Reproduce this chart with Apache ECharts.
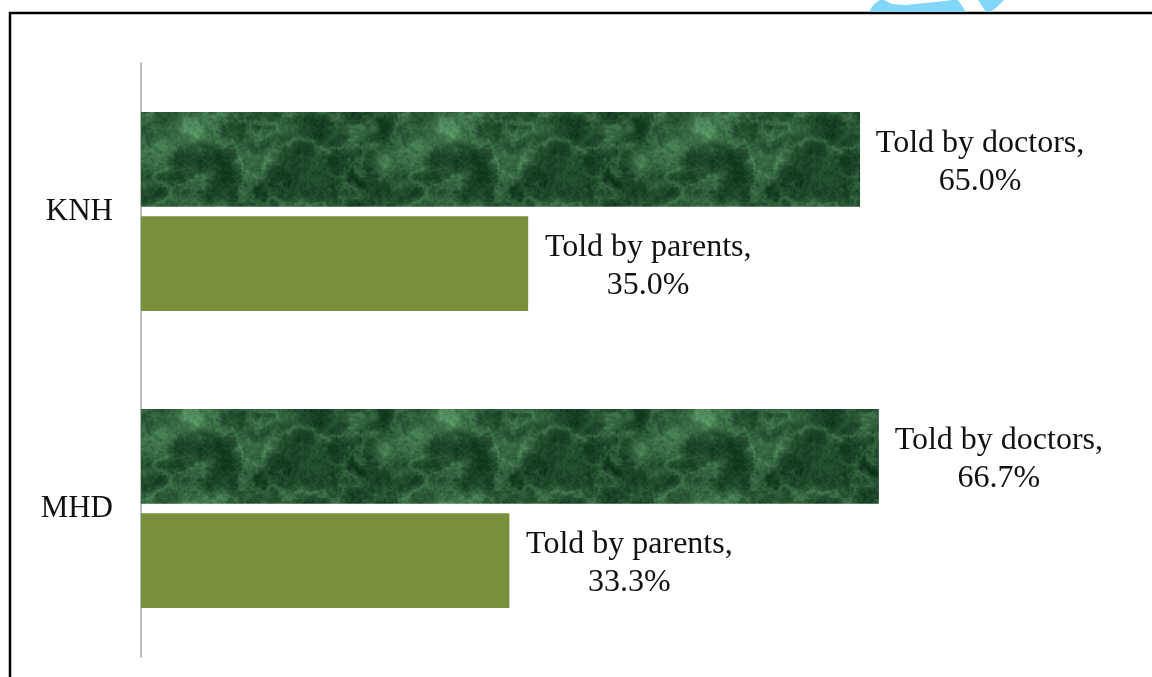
<!DOCTYPE html>
<html>
<head>
<meta charset="utf-8">
<script src="https://cdn.jsdelivr.net/npm/echarts@6/dist/echarts.min.js"></script>
<style>
  html, body { margin: 0; padding: 0; background: #ffffff; }
  #chart { width: 1152px; height: 677px; }
</style>
</head>
<body>
<div id="chart"></div>
<script>
// Hospitals (categories, top to bottom)
const categories = ['KNH', 'MHD'];
// Share of respondents by source of information (%)
const doctorsValues = [65.0, 66.7];
const parentsValues = [35.0, 33.3];
const doctorsName = 'Told by doctors';
const parentsName = 'Told by parents';

// Marble-like green texture for the "doctors" bars (tileable value noise)
function makeMarble() {
  const w = 256, h = 96;
  const hash = (x, y, s) => {
    let n = (x * 374761393 + y * 668265263 + s * 1442695041) | 0;
    n = (n ^ (n >>> 13)) * 1274126177 | 0;
    n = n ^ (n >>> 16);
    return (n >>> 0) / 4294967295;
  };
  const smooth = t => t * t * (3 - 2 * t);
  function noise(x, y, px, py, s) {
    const x0 = Math.floor(x), y0 = Math.floor(y);
    const fx = smooth(x - x0), fy = smooth(y - y0);
    const g = (i, j) => hash(((i % px) + px) % px, ((j % py) + py) % py, s);
    const a = g(x0, y0), b = g(x0 + 1, y0), c = g(x0, y0 + 1), d = g(x0 + 1, y0 + 1);
    return a + (b - a) * fx + (c - a) * fy + (a - b - c + d) * fx * fy;
  }
  function fbm(x, y, s, oct) {
    let sum = 0, amp = 0.5, fx = 8, fy = 3;
    for (let o = 0; o < oct; o++) {
      sum += amp * noise(x * fx, y * fy, fx, fy, s + o);
      amp *= 0.55; fx *= 2; fy *= 2;
    }
    return sum;
  }
  const c = document.createElement('canvas');
  c.width = w; c.height = h;
  const ctx = c.getContext('2d');
  const img = ctx.createImageData(w, h);
  for (let y = 0; y < h; y++) {
    for (let x = 0; x < w; x++) {
      const u = x / w, v = y / h;
      const base = fbm(u, v, 1, 6);
      const vein = 1 - Math.abs(fbm(u, v, 11, 6) * 2 - 1);
      const grain = noise(u * 128, v * 48, 128, 48, 31);
      let t = 0.6 * Math.pow(base, 1.8) + 0.32 * Math.pow(vein, 5) + 0.16 * grain - 0.1;
      t = Math.max(0, Math.min(1, t));
      const i = (y * w + x) * 4;
      img.data[i]     = 8 + t * 110;
      img.data[i + 1] = 44 + t * 145;
      img.data[i + 2] = 22 + t * 105;
      img.data[i + 3] = 255;
    }
  }
  ctx.putImageData(img, 0, 0);
  return c;
}
const marble = makeMarble();

const serif = '"Liberation Serif", "Times New Roman", serif';

function labelFor(name, boxWidth) {
  return {
    show: true,
    position: 'right',
    distance: 15,
    offset: [0, 3],
    formatter: p => '{t|' + name + ',}\n{t|' + p.value.toFixed(1) + '%}',
    rich: {
      t: {
        fontFamily: serif,
        fontSize: 32,
        color: '#111111',
        width: boxWidth,
        align: 'center',
        lineHeight: 38
      }
    }
  };
}

const chart = echarts.init(document.getElementById('chart'));
chart.setOption({
  backgroundColor: '#ffffff',
  animation: false,
  grid: { left: 141, right: 126, top: 63, bottom: 20, containLabel: false },
  xAxis: {
    type: 'value',
    min: 0,
    max: 80,
    show: false
  },
  yAxis: {
    type: 'category',
    inverse: true,
    data: categories,
    axisLine: { show: true, lineStyle: { color: '#a6a6a6', width: 1.5 } },
    axisTick: { show: false },
    axisLabel: { fontFamily: serif, fontSize: 31, color: '#111111', margin: 28 }
  },
  series: [
    {
      name: doctorsName,
      type: 'bar',
      data: doctorsValues,
      barGap: '10%',
      barCategoryGap: '33%',
      itemStyle: { color: { image: marble, repeat: 'repeat' } },
      label: labelFor(doctorsName, 210)
    },
    {
      name: parentsName,
      type: 'bar',
      data: parentsValues,
      itemStyle: { color: '#78903b' },
      label: labelFor(parentsName, 210)
    }
  ],
  graphic: [
    // slide frame
    {
      type: 'rect',
      shape: { x: 10, y: 13, width: 1300, height: 800 },
      style: { fill: 'none', stroke: '#000000', lineWidth: 2.5 },
      silent: true
    },
    // light blue ornament above the frame
    {
      type: 'polygon',
      shape: { points: [[869, 12], [874, 4], [880, 0], [958, 0], [962, 6], [966, 12]] },
      style: { fill: '#82d6f7' },
      silent: true
    },
    {
      type: 'polygon',
      shape: { points: [[884, 0], [892, 4], [905, 5], [925, 3], [945, 1], [952, 0]] },
      style: { fill: '#ffffff' },
      silent: true
    },
    {
      type: 'polygon',
      shape: { points: [[978, 0], [1004, 0], [996, 8], [990, 12], [986, 12]] },
      style: { fill: '#82d6f7' },
      silent: true
    }
  ]
});
</script>
</body>
</html>
